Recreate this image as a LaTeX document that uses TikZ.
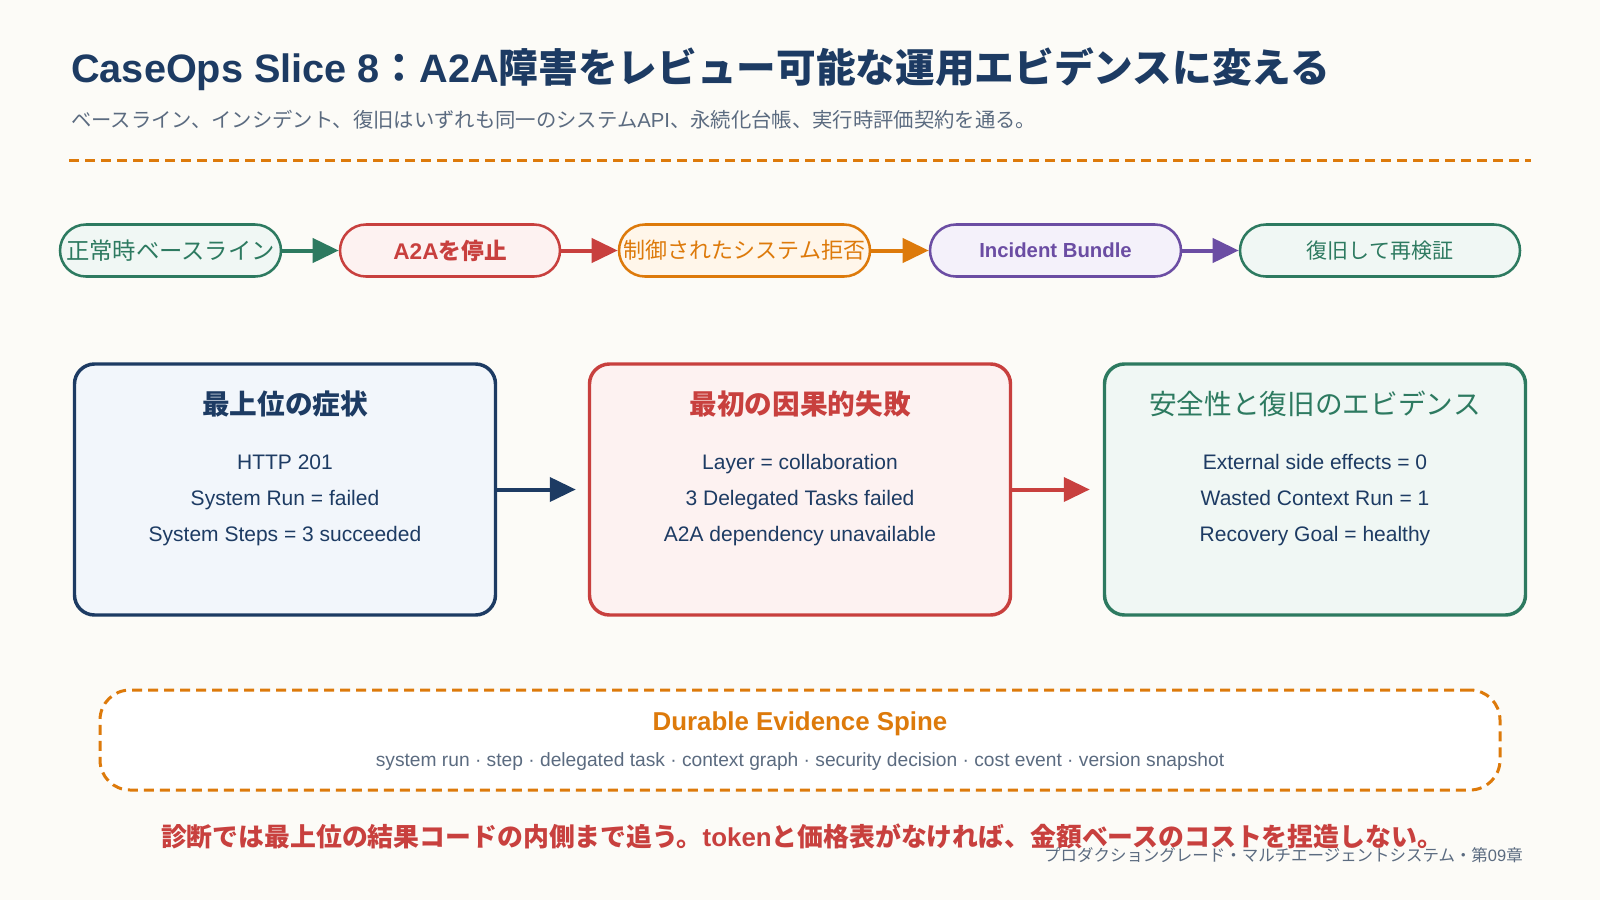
\documentclass[tikz,border=0pt]{standalone}
\usepackage{fontspec}
\setmainfont{Liberation Sans}
\newfontfamily\jp{Noto Sans CJK JP}
\usepackage{xcolor}
\usetikzlibrary{arrows.meta,positioning}
\definecolor{cbg}{HTML}{FCFBF7}
\definecolor{cnavy}{HTML}{1D3B63}
\definecolor{cnavybg}{HTML}{F2F6FB}
\definecolor{cred}{HTML}{C8403E}
\definecolor{credbg}{HTML}{FDF2F1}
\definecolor{corange}{HTML}{DD7A0B}
\definecolor{corangebg}{HTML}{FFF6EA}
\definecolor{cpurple}{HTML}{6B4DA3}
\definecolor{cpurplebg}{HTML}{F4F1FA}
\definecolor{cgreen}{HTML}{2D7A60}
\definecolor{cgreenbg}{HTML}{F0F7F4}
\definecolor{cgray}{HTML}{5B6B80}
\newcommand\ja[1]{{\jp #1}}
\newcommand\fs[2]{\fontsize{#1pt}{#2pt}\selectfont}

\begin{document}
\begin{tikzpicture}[x=0.75pt,y=-0.75pt,
    pill/.style={draw=#1,fill=#1bg,text=#1,line width=1.9pt,rounded corners=19.5pt,minimum height=39pt,inner sep=0pt},
    card/.style={draw=#1,fill=#1bg,line width=2.6pt,rounded corners=15pt,minimum width=315.75pt,minimum height=188.25pt},
    flow/.style={line width=3pt,draw=#1,-{Triangle[length=19.5pt,width=18pt]}}]
    \path[use as bounding box,fill=cbg] (0,0) rectangle (1600,900);
    % heading
    \node[anchor=base west,text=cnavy,font=\bfseries\fs{29.75}{34},inner sep=0pt] (title) at (71,82)
        {CaseOps Slice 8\ja{：}A2A\ja{障害をレビュー可能な運用エビデンスに変える}};
    \node[anchor=base west,text=cgray,font=\fs{15.25}{18},inner sep=0pt] (subtitle) at (71,127.5)
        {\ja{ベースライン、インシデント、復旧はいずれも同一のシステム}API\ja{、永続化台帳、実行時評価契約を通る。}};
    \draw[corange,line width=2.25pt,dash pattern=on 7.5pt off 4.5pt] (69,160) -- (1531,160);
    % flow of stages
    \foreach \n/\x/\w/\c/\t in {p1/170.5/165.75/cgreen/{\fs{17.5}{20}\ja{正常時ベースライン}},
        p2/450/165/cred/{\bfseries\fs{17}{20}A2A\ja{を停止}},
        p3/744.5/188.25/corange/{\fs{16.5}{20}\ja{制御されたシステム拒否}},
        p4/1055.5/188.25/cpurple/{\bfseries\fs{15.25}{17}Incident Bundle},
        p5/1380/210/cgreen/{\fs{15.75}{19}\ja{復旧して再検証}}}
        \node[pill=\c,minimum width=\w pt] (\n) at (\x,250.5) {\t};
    \draw[flow=cgreen] (p1) -- (p2);
    \draw[flow=cred] (p2) -- (p3);
    \draw[flow=corange] (p3) -- (p4);
    \draw[flow=cpurple] (p4) -- (p5);
    % three cards
    \foreach \n/\x/\c/\t/\a/\b/\d in {b1/285/cnavy/{\bfseries 最上位の症状}/HTTP 201/System Run = failed/System Steps = 3 succeeded,
        b2/800/cred/{\bfseries 最初の因果的失敗}/Layer = collaboration/3 Delegated Tasks failed/A2A dependency unavailable,
        b3/1315/cgreen/{安全性と復旧のエビデンス}/External side effects = 0/Wasted Context Run = 1/Recovery Goal = healthy}
    {
        \node[card=\c] (\n) at (\x,489.5) {};
        \node[align=center,anchor=north,text=cnavy,font=\fs{15.75}{27},inner sep=0pt] (\n-txt) at (\x,391)
            {{\color{\c}\fs{20.75}{24}\ja{\t}}\\[14pt]\a\\\b\\\d};
    }
    \draw[flow=cnavy,shorten >=9pt] (b1) -- (b2);
    \draw[flow=cred,shorten >=9.75pt] (b2) -- (b3);
    % spine
    \node[draw=corange,fill=white,line width=2.25pt,dash pattern=on 7.5pt off 4.5pt,rounded corners=22.5pt,
        minimum width=1050pt,minimum height=75pt] (spine) at (800,740) {};
    \node[anchor=base,text=corange,font=\bfseries\fs{19.4}{22}] (spine-title) at (800,730) {Durable Evidence Spine};
    \node[anchor=base,text=cgray,font=\fs{14.4}{16}] (spine-items) at (800,766)
        {system run · step · delegated task · context graph · security decision · cost event · version snapshot};
    % notes
    \node[anchor=base,text=cred,font=\bfseries\fs{19.4}{22}] (note) at (802,846)
        {\ja{診断では最上位の結果コードの内側まで追う。}token\ja{と価格表がなければ、金額ベースのコストを捏造しない。}};
    \node[anchor=base east,text=cgray,font=\fs{12.35}{14},inner sep=0pt] (footer) at (1523,861)
        {\ja{プロダクショングレード・マルチエージェントシステム・第}09\ja{章}};
\end{tikzpicture}
\end{document}
